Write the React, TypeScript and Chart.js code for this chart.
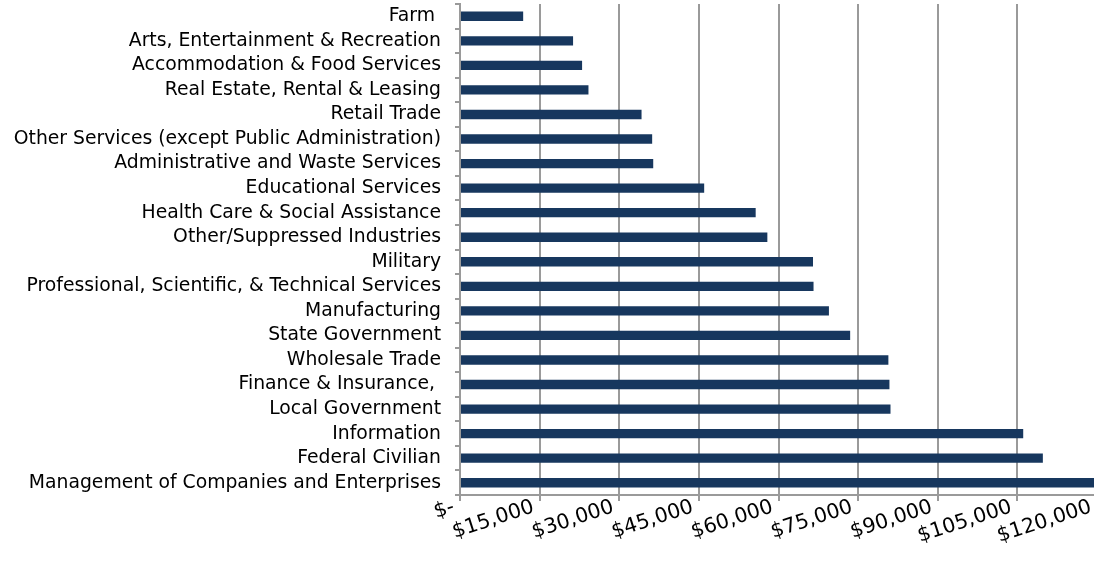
import React, { useEffect, useRef } from 'react';
import { Chart, registerables } from 'chart.js';
Chart.register(...registerables);

const categories = [
  'Farm ',
  'Arts, Entertainment & Recreation',
  'Accommodation & Food Services',
  'Real Estate, Rental & Leasing',
  'Retail Trade',
  'Other Services (except Public Administration)',
  'Administrative and Waste Services',
  'Educational Services',
  'Health Care & Social Assistance',
  'Other/Suppressed Industries',
  'Military',
  'Professional, Scientific, & Technical Services',
  'Manufacturing',
  'State Government',
  'Wholesale Trade',
  'Finance & Insurance, ',
  'Local Government',
  'Information',
  'Federal Civilian',
  'Management of Companies and Enterprises',
];

const wages = [
  11900, 21300, 23000, 24200, 34200, 36200, 36400, 46000, 55700, 57900,
  66500, 66600, 69500, 73500, 80700, 80900, 81100, 106100, 109800, 121000,
];

const xTickValues = [0, 15000, 30000, 45000, 60000, 75000, 90000, 105000, 120000];

const FONT = 'DejaVu Sans, Verdana, sans-serif';

export default function App() {
  const ref = useRef<HTMLCanvasElement>(null);
  useEffect(() => {
    const chart = new Chart(ref.current!, {
      type: 'bar',
      data: {
        labels: categories,
        datasets: [
          {
            data: wages,
            backgroundColor: '#17375e',
            categoryPercentage: 1,
            barPercentage: 0.38,
          },
        ],
      },
      options: {
        indexAxis: 'y',
        animation: false,
        responsive: false,
        maintainAspectRatio: false,
        layout: { padding: { top: 4, right: 1, left: 0, bottom: 0 } },
        plugins: { legend: { display: false }, tooltip: { enabled: false } },
        scales: {
          x: {
            type: 'linear',
            min: 0,
            max: 120000,
            afterBuildTicks: (s: any) => {
              s.ticks = xTickValues.map((v) => ({ value: v }));
            },
            afterFit: (s: any) => {
              s.height = 76;
              s.paddingLeft = 0;
              s.paddingRight = 0;
              s.paddingTop = 0;
              s.paddingBottom = 0;
            },
            ticks: {
              autoSkip: false,
              minRotation: 18,
              maxRotation: 18,
              color: '#000',
              padding: -6,
              labelOffset: -6,
              font: { family: FONT, size: 20.5 },
              callback: (v: any) => (Number(v) === 0 ? '$-' : '$' + Number(v).toLocaleString('en-US')),
            },
            grid: { color: '#9a9a9a', lineWidth: 2, tickLength: 6 },
            border: { color: '#9a9a9a', width: 2 },
          },
          y: {
            afterFit: (s: any) => {
              s.width = 460;
              s.paddingTop = 0;
              s.paddingBottom = 0;
              s.paddingLeft = 0;
              s.paddingRight = 0;
            },
            ticks: {
              autoSkip: false,
              color: '#000',
              padding: 14,
              font: { family: FONT, size: 18.8 },
            },
            grid: { drawOnChartArea: false, color: '#9a9a9a', lineWidth: 2, tickLength: 5 },
            border: { color: '#9a9a9a', width: 2 },
          },
        },
      },
    });
    return () => chart.destroy();
  }, []);
  return (
    <div style={{ position: 'fixed', left: 0, top: 0, width: 1098, height: 571 }}>
      <canvas ref={ref} width={1098} height={571} style={{ display: 'block' }} />
    </div>
  );
}
